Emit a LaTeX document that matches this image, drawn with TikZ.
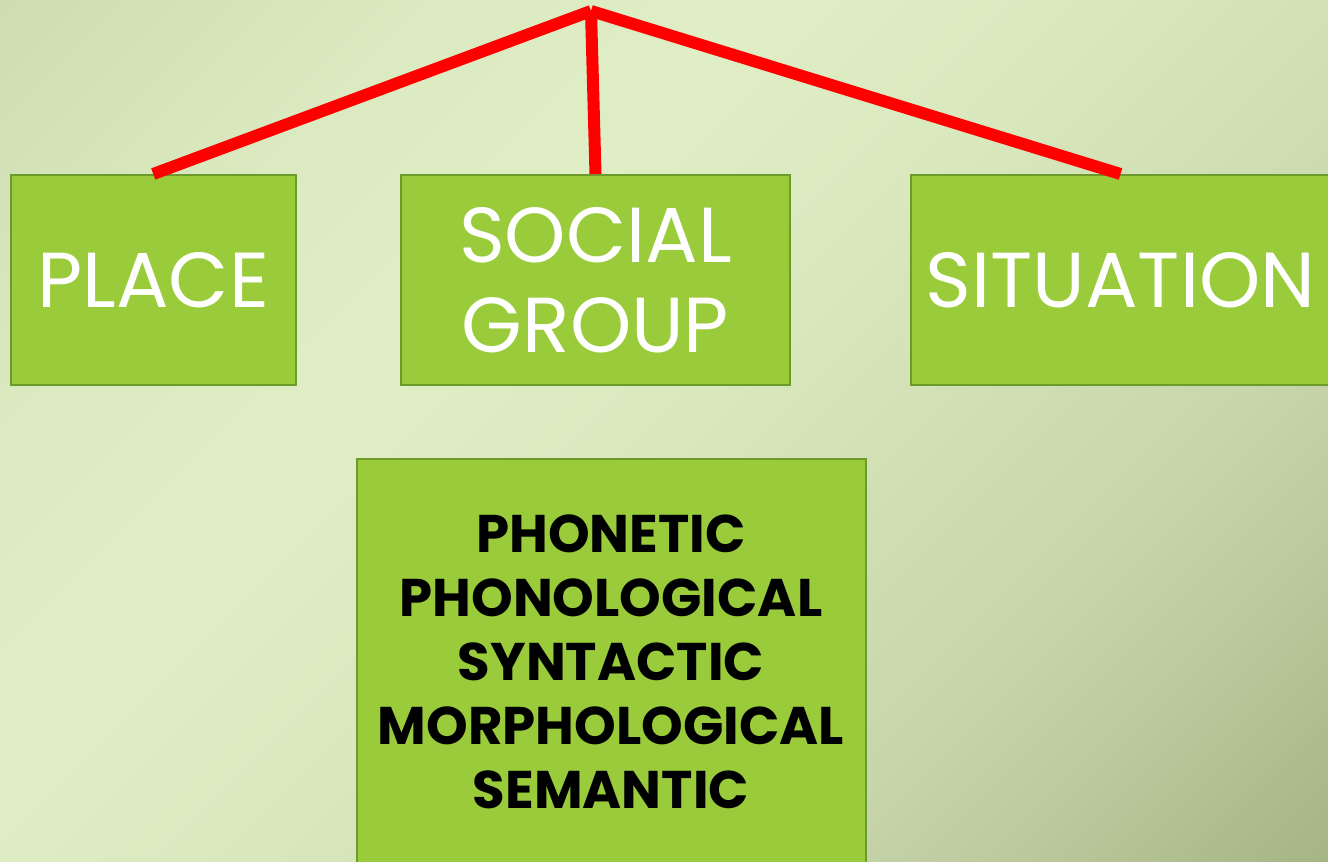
\documentclass[tikz,border=0pt]{standalone}
\usepackage{fontspec}
\setmainfont{Poppins}
\usetikzlibrary{positioning}
\definecolor{boxgreen}{HTML}{9ACB3A}
\definecolor{boxedge}{HTML}{6E992B}
\definecolor{linkred}{HTML}{FF0000}
\definecolor{bgdark}{HTML}{CEDCB0}
\definecolor{bgpale}{HTML}{DCEAC1}
\definecolor{bglight}{HTML}{DFEEC5}
\definecolor{bgfade}{HTML}{DAE8BE}
\definecolor{bgmid}{HTML}{C8D6AB}
\definecolor{bgolive}{HTML}{BCCA9E}
\definecolor{bgdeep}{HTML}{A6B584}
\pgfdeclarehorizontalshading{slidebg}{100bp}{color(0bp)=(bgdark); color(14.6bp)=(bgdark); color(28.8bp)=(bgpale); color(39.4bp)=(bglight); color(50bp)=(bgfade); color(67.7bp)=(bgmid); color(74.7bp)=(bgolive); color(85.4bp)=(bgdeep); color(100bp)=(bgdeep)}

\begin{document}
\begin{tikzpicture}[x=1pt, y=-1pt]
    \tikzstyle{box}=[draw=boxedge, line width=2pt, fill=boxgreen, rectangle, inner sep=0pt, minimum height=210pt, align=center, text=white, font=\fontsize{78}{90}\selectfont]
    \tikzstyle{level}=[box, text=black, minimum width=509pt, minimum height=406pt, font=\bfseries\fontsize{53}{64}\selectfont]
    \tikzstyle{link}=[draw=linkred, line width=12pt]

    \shade[shading=slidebg, shading angle=-45] (0,0) rectangle (1328,862);
    \useasboundingbox (0,0) rectangle (1328,862);

    \coordinate (top) at (591,11);
    \node[box, minimum width=284.5pt] (place) at (153.25,280) {PLACE};
    \node[box, minimum width=389pt, right=103.5pt of place] (social) {SOCIAL\\GROUP};
    \node[box, minimum width=419pt, right=119pt of social] (situation) {SITUATION};
    \node[level, below=72pt of social, xshift=15.5pt] (levels) {PHONETIC\\PHONOLOGICAL\\SYNTACTIC\\MORPHOLOGICAL\\SEMANTIC};

    \draw[link] (top) -- (place.north);
    \draw[link] (top) -- (social.north);
    \draw[link] (top) -- (situation.north);
\end{tikzpicture}
\end{document}
